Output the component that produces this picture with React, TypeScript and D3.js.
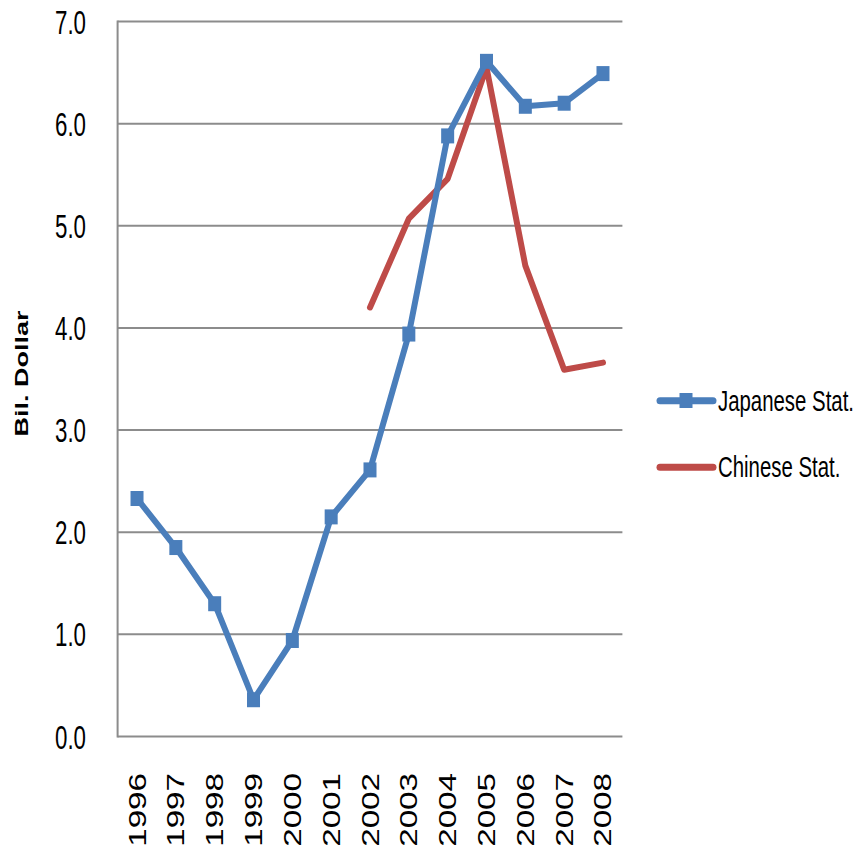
import React from "react";
import * as d3 from "d3";

const years: string[] = ["1996","1997","1998","1999","2000","2001","2002","2003","2004","2005","2006","2007","2008"];
const japanese: (number | null)[] = [2.33, 1.85, 1.30, 0.36, 0.94, 2.15, 2.61, 3.94, 5.88, 6.61, 6.17, 6.20, 6.49];
const chinese: (number | null)[] = [null, null, null, null, null, null, 4.20, 5.07, 5.46, 6.55, 4.61, 3.59, 3.66];
const yTicks: number[] = [0, 1, 2, 3, 4, 5, 6, 7];
const seriesNames = ["Japanese Stat.", "Chinese Stat."];

const BLUE = "#4A7EBB";
const RED = "#BE4B48";
const GRID = "#8C8C8C";
const FONT = "'Liberation Sans', Arial, sans-serif";

export default function App() {
  const x = d3.scaleBand<string>().domain(years).range([117.6, 622.4]);
  const y = d3.scaleLinear().domain([0, 7]).range([736.5, 21.5]);
  const cx = (yr: string) => (x(yr) as number) + x.bandwidth() / 2;

  const line = d3
    .line<number | null>()
    .defined((d) => d != null)
    .x((_, i) => cx(years[i]))
    .y((d) => y(d as number));

  return (
    <svg width={864} height={848} style={{ position: "absolute", left: 0, top: 0, background: "#fff" }}>
      {/* gridlines */}
      {yTicks.map((t) => (
        <line key={"g" + t} x1={117.6} x2={622.4} y1={y(t)} y2={y(t)} stroke={GRID} strokeWidth={2} />
      ))}
      {/* y axis line */}
      <line x1={117.6} x2={117.6} y1={y(7) - 1} y2={y(0) + 1} stroke={GRID} strokeWidth={2} />
      {/* y tick labels */}
      {yTicks.map((t) => (
        <text
          key={"t" + t}
          transform={`translate(86,${y(t) + 12}) scale(1,1.5)`}
          textAnchor="end"
          fontFamily={FONT}
          fontSize={22.3}
          fill="#000"
        >
          {t.toFixed(1)}
        </text>
      ))}
      {/* x labels */}
      {years.map((yr) => (
        <text
          key={"x" + yr}
          transform={`translate(${cx(yr)},773) rotate(-90) scale(1.4,1)`}
          y={8.5}
          textAnchor="end"
          fontFamily={FONT}
          fontSize={23.7}
          fill="#000"
        >
          {yr}
        </text>
      ))}
      {/* y axis title */}
      <text
        transform="translate(28,373.5) rotate(-90) scale(1.5,1)"
        textAnchor="middle"
        fontFamily={FONT}
        fontWeight="bold"
        fontSize={18}
        fill="#000"
      >
        Bil. Dollar
      </text>
      {/* Chinese line */}
      <path d={line(chinese) || ""} fill="none" stroke={RED} strokeWidth={6} strokeLinejoin="round" strokeLinecap="round" />
      {/* Japanese line */}
      <path d={line(japanese) || ""} fill="none" stroke={BLUE} strokeWidth={6} strokeLinejoin="round" strokeLinecap="round" />
      {japanese.map((v, i) =>
        v == null ? null : (
          <rect key={"m" + i} x={cx(years[i]) - 6.5} y={y(v) - 7.5} width={13} height={15} fill={BLUE} />
        )
      )}
      {/* legend */}
      <line x1={660} x2={713} y1={400.7} y2={400.7} stroke={BLUE} strokeWidth={7} strokeLinecap="round" />
      <rect x={679.5} y={393} width={13} height={15} fill={BLUE} />
      <text transform="translate(718,410.7) scale(1,1.44)" fontFamily={FONT} fontSize={20.4} fill="#000">
        {seriesNames[0]}
      </text>
      <line x1={660} x2={713} y1={467.3} y2={467.3} stroke={RED} strokeWidth={7} strokeLinecap="round" />
      <text transform="translate(718,477.3) scale(1,1.44)" fontFamily={FONT} fontSize={20.4} fill="#000">
        {seriesNames[1]}
      </text>
    </svg>
  );
}
